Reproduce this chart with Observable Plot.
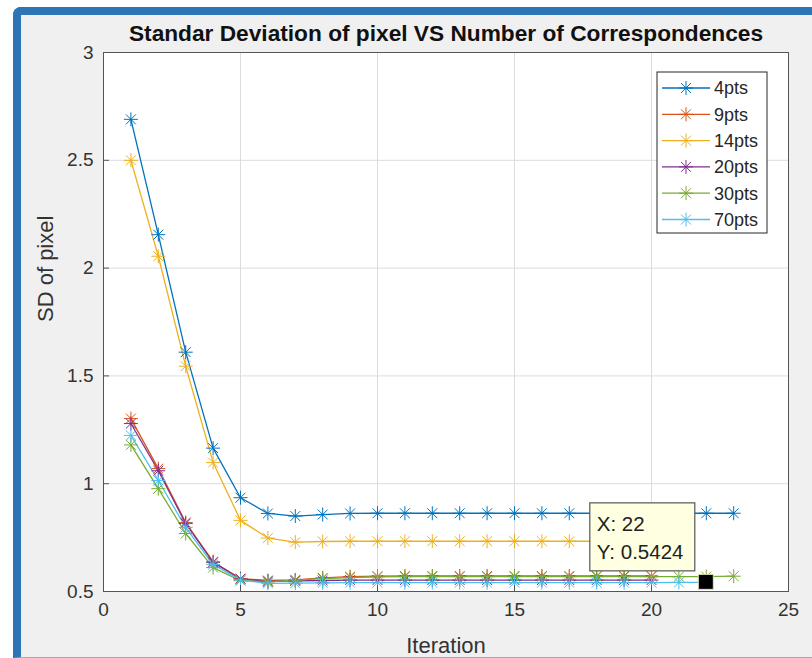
<!DOCTYPE html>
<html><head><meta charset="utf-8">
<script src="https://cdn.jsdelivr.net/npm/d3@7"></script>
<script src="https://cdn.jsdelivr.net/npm/@observablehq/plot@0.6"></script>
<style>
html,body{margin:0;padding:0;background:#fff;}
#wrap{position:relative;width:812px;height:658px;overflow:hidden;font-family:"Liberation Sans",Arial,sans-serif;}
#panel{position:absolute;left:13px;top:7px;right:0;bottom:0;background:#f0f0f0;border-left:8px solid #2e75b6;border-top:8px solid #2e75b6;border-top-left-radius:8px;border-bottom:1px solid #8fb0d8;}
#chart{position:absolute;left:0;top:0;}
</style></head><body>
<div id="wrap"><div id="panel"></div><div id="chart"></div></div>
<script>
const titleText = "Standar Deviation of pixel VS Number of Correspondences";
const xLabel = "Iteration";
const yLabel = "SD of pixel";
const xTicks = [0, 5, 10, 15, 20, 25];
const yTicks = [0.5, 1, 1.5, 2, 2.5, 3];
const seriesNames = ["4pts", "9pts", "14pts", "20pts", "30pts", "70pts"];
const seriesColors = ["#0072BD", "#D95319", "#EDB120", "#7E2F8E", "#77AC30", "#4DBEEE"];
const s4  = [2.69, 2.155, 1.61, 1.165, 0.935, 0.862, 0.85, 0.857, 0.862, 0.863, 0.863, 0.863, 0.863, 0.863, 0.863, 0.863, 0.863, 0.863, 0.863, 0.863, 0.863, 0.863, 0.863];
const s9  = [1.302, 1.07, 0.82, 0.638, 0.56, 0.551, 0.554, 0.563, 0.569, 0.571, 0.572, 0.572, 0.572, 0.572, 0.572, 0.572, 0.572, 0.572, 0.572, 0.572];
const s14 = [2.50, 2.055, 1.545, 1.098, 0.83, 0.748, 0.729, 0.732, 0.733, 0.733, 0.733, 0.733, 0.733, 0.733, 0.733, 0.733, 0.733, 0.733, 0.733, 0.733];
const s20 = [1.279, 1.06, 0.815, 0.635, 0.558, 0.547, 0.549, 0.551, 0.553, 0.553, 0.553, 0.553, 0.553, 0.553, 0.553, 0.553, 0.553, 0.553, 0.553, 0.553];
const s30 = [1.18, 0.977, 0.769, 0.611, 0.55, 0.545, 0.553, 0.56, 0.565, 0.568, 0.569, 0.569, 0.569, 0.569, 0.569, 0.569, 0.569, 0.569, 0.569, 0.569, 0.569, 0.569, 0.571];
const s70 = [1.224, 1.015, 0.797, 0.625, 0.553, 0.538, 0.539, 0.54, 0.541, 0.541, 0.541, 0.541, 0.541, 0.541, 0.541, 0.541, 0.541, 0.541, 0.541, 0.541, 0.542, 0.5424];
const tipX = 22;
const tipY = 0.5424;

const seriesValues = [s4, s9, s14, s20, s30, s70];
const rows = [];
seriesNames.forEach((name, k) => seriesValues[k].forEach((v, i) => rows.push({series: name, iter: i + 1, sd: v})));

const asterisk = {
  draw(ctx, size) {
    const r = Math.sqrt(size / Math.PI), d = r * Math.SQRT1_2;
    ctx.moveTo(0, -r); ctx.lineTo(0, r);
    ctx.moveTo(-r, 0); ctx.lineTo(r, 0);
    ctx.moveTo(-d, -d); ctx.lineTo(d, d);
    ctx.moveTo(-d, d); ctx.lineTo(d, -d);
  }
};

const FONT = "'Liberation Sans', Arial, sans-serif";

function datatip(index, scales, values, dims) {
  const px = scales.x(tipX), py = scales.y(tipY);
  const g = d3.create("svg:g").attr("text-anchor", "start").attr("font-family", FONT);
  g.append("rect").attr("x", px - 116).attr("y", py - 79).attr("width", 105).attr("height", 68)
    .attr("fill", "#ffffe1").attr("stroke", "#555").attr("stroke-width", 1.2);
  g.append("text").attr("x", px - 109).attr("y", py - 51).attr("font-size", 20.5).attr("fill", "#222")
    .text("X: " + tipX);
  g.append("text").attr("x", px - 109).attr("y", py - 23).attr("font-size", 20.5).attr("fill", "#222")
    .text("Y: " + tipY);
  g.append("rect").attr("x", px - 7.5).attr("y", py - 7.5).attr("width", 15).attr("height", 15)
    .attr("fill", "#000").attr("stroke", "#e6e2b8").attr("stroke-width", 1);
  return g.node();
}

function legend(index, scales, values, dims) {
  const right = dims.width - dims.marginRight, top = dims.marginTop;
  const bx = right - 131, by = top + 20;
  const g = d3.create("svg:g").attr("font-family", FONT).attr("text-anchor", "start");
  g.append("rect").attr("x", bx).attr("y", by).attr("width", 110).attr("height", 161)
    .attr("fill", "#fff").attr("stroke", "#262626").attr("stroke-width", 1);
  seriesNames.forEach((name, k) => {
    const y = by + 16 + k * 26.3;
    const c = seriesColors[k];
    g.append("line").attr("x1", bx + 5).attr("x2", bx + 53).attr("y1", y).attr("y2", y)
      .attr("stroke", c).attr("stroke-width", 1.3);
    const r = 7, d = r * Math.SQRT1_2, cx = bx + 29;
    g.append("path").attr("d", `M${cx},${y - r}V${y + r}M${cx - r},${y}H${cx + r}M${cx - d},${y - d}L${cx + d},${y + d}M${cx - d},${y + d}L${cx + d},${y - d}`)
      .attr("stroke", c).attr("fill", "none").attr("stroke-width", 1);
    g.append("text").attr("x", bx + 57).attr("y", y).attr("dy", "0.36em").attr("font-size", 18)
      .attr("fill", "#262626").text(name);
  });
  return g.node();
}

const chart = Plot.plot({
  width: 812,
  height: 658,
  marginLeft: 103,
  marginRight: 24,
  marginTop: 52,
  marginBottom: 67,
  style: {background: "transparent", fontFamily: FONT, color: "#333", overflow: "visible"},
  x: {domain: [0, 25], label: null},
  y: {domain: [0.5, 3], label: null},
  color: {type: "ordinal", domain: seriesNames, range: seriesColors},
  marks: [
    Plot.frame({fill: "white", stroke: null}),
    Plot.gridX(xTicks, {stroke: "#dcdcdc", strokeOpacity: 1}),
    Plot.gridY(yTicks, {stroke: "#dcdcdc", strokeOpacity: 1}),
    Plot.line(rows, {x: "iter", y: "sd", z: "series", stroke: "series", strokeWidth: 1.3}),
    Plot.dot(rows, {x: "iter", y: "sd", stroke: "series", fill: "none", symbol: asterisk, r: 7, strokeWidth: 1}),
    Plot.frame({stroke: "#555", strokeWidth: 1}),
    Plot.axisX({ticks: xTicks, tickSize: 6, dy: -6, tickPadding: 11, fontSize: 19, stroke: "#555", label: null, tickFormat: d => String(d)}),
    Plot.axisY({ticks: yTicks, tickSize: 6, dx: 6, tickPadding: 10, fontSize: 19, stroke: "#555", label: null, tickFormat: d => String(d)}),
    Plot.text([titleText], {frameAnchor: "top", dy: -19, fontSize: 22.7, fontWeight: "bold", fill: "#111", lineAnchor: "middle"}),
    Plot.text([xLabel], {frameAnchor: "bottom", dy: 54, fontSize: 22, fill: "#333", lineAnchor: "middle"}),
    Plot.text([yLabel], {frameAnchor: "left", dx: -58, rotate: -90, fontSize: 22, fill: "#333", lineAnchor: "middle"}),
    datatip,
    legend
  ]
});
document.getElementById("chart").appendChild(chart);
</script>
</body></html>
